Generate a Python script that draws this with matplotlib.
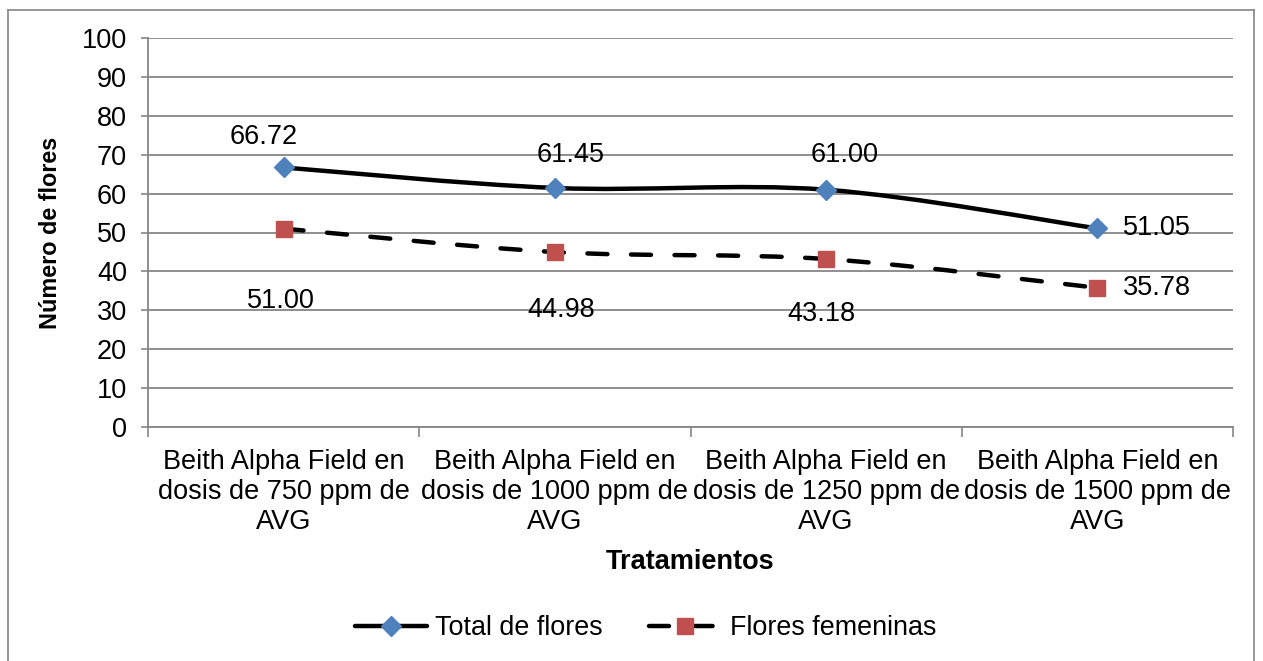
import matplotlib
matplotlib.use('Agg')
import matplotlib.pyplot as plt
from matplotlib.path import Path
from matplotlib.patches import PathPatch
from matplotlib.lines import Line2D

categories = [
    "Beith Alpha Field en\ndosis de 750 ppm de\nAVG",
    "Beith Alpha Field en\ndosis de 1000 ppm de\nAVG",
    "Beith Alpha Field en\ndosis de 1250 ppm de\nAVG",
    "Beith Alpha Field en\ndosis de 1500 ppm de\nAVG",
]
total_flores = [66.72, 61.45, 61.00, 51.05]
flores_femeninas = [51.00, 44.98, 43.18, 35.78]
y_ticks = list(range(0, 101, 10))
series_names = ["Total de flores", "Flores femeninas"]

plt.rcParams['font.family'] = ['Liberation Sans', 'DejaVu Sans']

W, H = 1263, 661
fig = plt.figure(figsize=(W / 100, H / 100), dpi=100)
ax = fig.add_axes([148 / W, 1 - 427 / H, (1233 - 148) / W, (427 - 38) / H])

GRID = '#868686'
BLUE = '#4F81BD'
RED = '#C0504D'

# figure border
fig.add_artist(Line2D([8 / W, 8 / W], [0, 1 - 10 / H], color=GRID, lw=1.2, transform=fig.transFigure))
fig.add_artist(Line2D([8 / W, 1254 / W], [1 - 10 / H, 1 - 10 / H], color=GRID, lw=1.2, transform=fig.transFigure))
fig.add_artist(Line2D([1254 / W, 1254 / W], [1 - 10 / H, 0], color=GRID, lw=1.2, transform=fig.transFigure))

x = list(range(len(categories)))


def smooth_path(xs, ys):
    pts = list(zip(xs, ys))
    n = len(pts)
    verts = [pts[0]]
    codes = [Path.MOVETO]
    for i in range(n - 1):
        p0 = pts[i - 1] if i > 0 else pts[i]
        p1 = pts[i]
        p2 = pts[i + 1]
        p3 = pts[i + 2] if i + 2 < n else pts[i + 1]
        c1 = (p1[0] + (p2[0] - p0[0]) / 6, p1[1] + (p2[1] - p0[1]) / 6)
        c2 = (p2[0] - (p3[0] - p1[0]) / 6, p2[1] - (p3[1] - p1[1]) / 6)
        verts += [c1, c2, p2]
        codes += [Path.CURVE4] * 3
    return Path(verts, codes)


ax.set_xlim(-0.5, len(categories) - 0.5)
ax.set_ylim(0, 100)

p1 = PathPatch(smooth_path(x, total_flores), facecolor='none', edgecolor='black', lw=3.2,
               capstyle='round', joinstyle='round', zorder=3)
ax.add_patch(p1)
p2 = PathPatch(smooth_path(x, flores_femeninas), facecolor='none', edgecolor='black', lw=3.2,
               linestyle=(0, (4.5, 5.3)), capstyle='round', joinstyle='round', zorder=3)
ax.add_patch(p2)

ax.plot(x, total_flores, linestyle='none', marker='D', markersize=10.5, color=BLUE,
        markeredgecolor=BLUE, zorder=4)
ax.plot(x, flores_femeninas, linestyle='none', marker='s', markersize=12, color=RED,
        markeredgecolor=RED, zorder=4)

FS = 19.5
top_offsets = [(-20, 30), (16, 33), (19, 35)]
for i, v in enumerate(total_flores):
    if i < 3:
        dx, dy = top_offsets[i]
        ax.annotate(f"{v:.2f}", (x[i], v), xytext=(dx, dy), textcoords='offset pixels',
                    ha='center', va='center', fontsize=FS)
    else:
        ax.annotate(f"{v:.2f}", (x[i], v), xytext=(26, 0), textcoords='offset pixels',
                    ha='left', va='center', fontsize=FS)

bot_offsets = [(-3, -72), (6, -58), (-5, -55)]
for i, v in enumerate(flores_femeninas):
    if i < 3:
        dx, dy = bot_offsets[i]
        ax.annotate(f"{v:.2f}", (x[i], v), xytext=(dx, dy), textcoords='offset pixels',
                    ha='center', va='center', fontsize=FS)
    else:
        ax.annotate(f"{v:.2f}", (x[i], v), xytext=(26, 0), textcoords='offset pixels',
                    ha='left', va='center', fontsize=FS)

ax.set_yticks(y_ticks)
ax.set_yticklabels([str(t) for t in y_ticks], fontsize=FS)
ax.yaxis.grid(True, color=GRID, lw=1.3)
ax.set_axisbelow(True)
ax.tick_params(axis='y', direction='out', length=5, width=1.2, color=GRID, pad=10)

ax.set_xticks(x)
ax.set_xticklabels(categories, fontsize=FS, linespacing=1.2)
ax.set_xticks([i - 0.5 for i in range(len(categories) + 1)], minor=True)
ax.tick_params(axis='x', which='major', length=0, pad=16)
ax.tick_params(axis='x', which='minor', direction='out', length=7, width=1.2, color=GRID)

for s in ['top', 'right']:
    ax.spines[s].set_visible(False)
for s in ['left', 'bottom']:
    ax.spines[s].set_color(GRID)
    ax.spines[s].set_linewidth(1.3)

ax.set_xlabel("Tratamientos", fontsize=19.5, fontweight='bold', labelpad=10)
ax.set_ylabel("Número de flores", fontsize=16.8, fontweight='bold', labelpad=14)

h1 = Line2D([], [], color='black', lw=3.2, marker='D', markersize=10.5,
            markerfacecolor=BLUE, markeredgecolor=BLUE, solid_capstyle='round')
h2 = Line2D([], [], color='black', lw=3.2, linestyle=(0, (4.5, 5.3)), marker='s', markersize=12,
            markerfacecolor=RED, markeredgecolor=RED, dash_capstyle='round')
fig.legend([h1, h2], series_names, loc='center', bbox_to_anchor=(0.511, 1 - 628 / H), ncol=2,
           frameon=False, fontsize=19.4, handlelength=2.7, handletextpad=0.3, columnspacing=1.7)

fig.savefig('out.png', dpi=100)
